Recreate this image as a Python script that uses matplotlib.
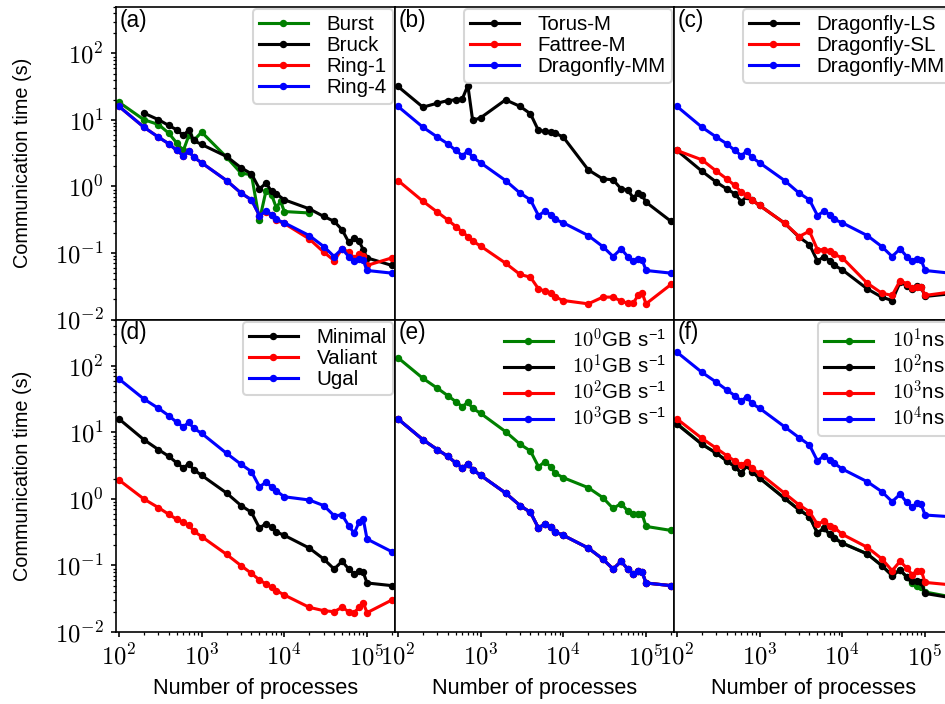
import matplotlib
matplotlib.use("Agg")
import matplotlib.pyplot as plt
from matplotlib.ticker import LogLocator, FuncFormatter, NullFormatter
import numpy as np

plt.rcParams["font.family"] = ["Liberation Sans", "DejaVu Sans"]
plt.rcParams["mathtext.fontset"] = "cm"

# process counts (x axis)
nprocs = [100, 200, 300, 400, 500, 600, 700, 800, 1000, 2000, 3000, 4000, 5000,
          6000, 7000, 8000, 10000, 20000, 30000, 40000, 50000, 60000, 70000,
          80000, 90000, 100000, 200000]
nprocs_bruck = nprocs[1:]
nprocs_burst = [100, 200, 300, 400, 500, 600, 700, 800, 1000, 2000, 3000, 4000,
                5000, 6000, 7000, 8000, 9000, 10000, 20000]

# communication times (s)
dragonfly_mm = [16.0, 7.8, 5.52, 4.39, 3.48, 2.92, 3.40, 2.76, 2.27, 1.23, 0.795,
                0.63, 0.366, 0.425, 0.379, 0.319, 0.284, 0.183, 0.125, 0.0885,
                0.1156, 0.0885, 0.0753, 0.0817, 0.0789, 0.0546, 0.0498]

# (a) algorithms
burst = [18.5, 10.1, 8.55, 6.34, 4.49, 3.48, 5.85, 4.92, 6.56, 2.76, 1.58, 1.51,
         0.31, 0.86, 0.75, 0.48, 0.60, 0.42, 0.40]
bruck = [12.7, 10.1, 8.27, 7.11, 5.85, 7.11, 4.92, 4.28, 2.83, 1.91, 1.55, 0.92,
         1.12, 0.851, 0.776, 0.631, 0.462, 0.354, 0.30, 0.223, 0.146, 0.166,
         0.152, 0.112, 0.0845, 0.065]
ring_1 = [16.0, 7.8, 5.52, 4.39, 3.48, 2.92, 3.40, 2.76, 2.27, 1.23, 0.795, 0.63,
          0.366, 0.42, 0.372, 0.31, 0.278, 0.163, 0.103, 0.077, 0.1156, 0.103,
          0.0845, 0.095, 0.0916, 0.065, 0.0845]
ring_4 = dragonfly_mm

# (b) topologies
torus_m = [31.9, 15.6, 17.9, 19.6, 20.1, 20.8, 33.0, 9.83, 10.8, 20.1, 16.0, 12.4,
           6.95, 6.79, 6.56, 6.34, 5.52, 1.78, 1.30, 1.26, 0.92, 0.89, 0.676,
           0.795, 0.733, 0.581, 0.30]
fattree_m = [1.23, 0.601, 0.411, 0.315, 0.250, 0.206, 0.177, 0.151, 0.127, 0.0703,
             0.0475, 0.0433, 0.0289, 0.0267, 0.0249, 0.0217, 0.0193, 0.0172,
             0.0217, 0.0217, 0.0189, 0.0176, 0.0176, 0.023, 0.0249, 0.0172, 0.0336]

# (c) job placement
dragonfly_ls = [3.48, 1.70, 1.16, 0.92, 0.776, 0.594, 0.708, 0.63, 0.518, 0.281,
                0.173, 0.134, 0.0753, 0.0885, 0.077, 0.0649, 0.0558, 0.0289,
                0.0217, 0.0193, 0.0364, 0.0324, 0.0289, 0.0324, 0.0306, 0.0222,
                0.0243]
dragonfly_sl = [3.48, 2.52, 1.70, 1.30, 1.035, 0.82, 0.733, 0.63, 0.518, 0.281,
                0.177, 0.213, 0.112, 0.112, 0.107, 0.095, 0.0845, 0.0352, 0.0249,
                0.023, 0.0385, 0.0344, 0.0299, 0.0306, 0.0306, 0.023, 0.0258]

# (d) routing
minimal = dragonfly_mm
valiant = [1.93, 1.0, 0.741, 0.589, 0.495, 0.446, 0.406, 0.330, 0.272, 0.147,
           0.0993, 0.0762, 0.0605, 0.0527, 0.047, 0.0419, 0.036, 0.0235, 0.0209,
           0.0202, 0.0235, 0.0202, 0.0195, 0.0235, 0.0276, 0.0195, 0.0303]
ugal = [63.8, 31.9, 23.1, 17.9, 14.2, 12.2, 14.2, 11.6, 9.71, 4.86, 3.32, 2.58,
        1.53, 1.78, 1.53, 1.32, 1.08, 0.966, 0.795, 0.561, 0.574, 0.397, 0.305,
        0.446, 0.50, 0.25, 0.161]

# (e) link bandwidth
bw_1e0 = [133, 65.3, 46.2, 35.8, 29.1, 24.5, 28.5, 23.1, 19.4, 10.3, 6.65, 5.27,
          3.06, 3.64, 3.06, 2.43, 2.09, 1.48, 1.05, 0.72, 0.855, 0.66, 0.60, 0.585,
          0.585, 0.387, 0.337]
bw_1e1 = dragonfly_mm
bw_1e2 = dragonfly_mm
bw_1e3 = dragonfly_mm

# (f) link latency
lat_1e1 = [13.6, 6.7, 4.9, 3.75, 3.08, 2.45, 3.25, 2.6, 2.07, 1.03, 0.69, 0.545,
           0.31, 0.365, 0.297, 0.26, 0.218, 0.15, 0.1, 0.071, 0.086, 0.066, 0.055,
           0.05, 0.048, 0.040, 0.034]
lat_1e2 = [13.3, 6.65, 4.86, 3.73, 3.06, 2.43, 3.25, 2.58, 2.05, 1.02, 0.684, 0.542,
           0.305, 0.362, 0.294, 0.256, 0.216, 0.149, 0.0995, 0.0703, 0.0855, 0.068,
           0.059, 0.059, 0.057, 0.038, 0.033]
lat_1e3 = [16.0, 8.17, 5.78, 4.48, 3.73, 3.25, 3.64, 2.89, 2.43, 1.22, 0.813, 0.644,
           0.416, 0.467, 0.397, 0.371, 0.294, 0.188, 0.126, 0.0836, 0.116, 0.0916,
           0.0728, 0.0836, 0.0836, 0.0557, 0.0513]
lat_1e4 = [161, 80.4, 56.9, 43.6, 35.8, 29.8, 34.6, 27.5, 23.1, 12.2, 8.35, 6.49,
           3.73, 4.48, 3.86, 3.44, 2.82, 1.82, 1.29, 0.912, 1.18, 0.891, 0.767,
           0.861, 0.832, 0.574, 0.542]

gbs = r"GB s$^{\mathregular{-1}}$"
panels = [
    ("(a)", [(nprocs_burst, burst, "g", "Burst"),
             (nprocs_bruck, bruck, "k", "Bruck"),
             (nprocs, ring_1, "r", "Ring-1"),
             (nprocs, ring_4, "b", "Ring-4")], True),
    ("(b)", [(nprocs, torus_m, "k", "Torus-M"),
             (nprocs, fattree_m, "r", "Fattree-M"),
             (nprocs, dragonfly_mm, "b", "Dragonfly-MM")], True),
    ("(c)", [(nprocs, dragonfly_ls, "k", "Dragonfly-LS"),
             (nprocs, dragonfly_sl, "r", "Dragonfly-SL"),
             (nprocs, dragonfly_mm, "b", "Dragonfly-MM")], True),
    ("(d)", [(nprocs, minimal, "k", "Minimal"),
             (nprocs, valiant, "r", "Valiant"),
             (nprocs, ugal, "b", "Ugal")], True),
    ("(e)", [(nprocs, bw_1e0, "g", r"$10^0$" + gbs),
             (nprocs, bw_1e1, "k", r"$10^1$" + gbs),
             (nprocs, bw_1e2, "r", r"$10^2$" + gbs),
             (nprocs, bw_1e3, "b", r"$10^3$" + gbs)], False),
    ("(f)", [(nprocs, lat_1e1, "g", r"$10^1$ns"),
             (nprocs, lat_1e2, "k", r"$10^2$ns"),
             (nprocs, lat_1e3, "r", r"$10^3$ns"),
             (nprocs, lat_1e4, "b", r"$10^4$ns")], True),
]

fig, axes = plt.subplots(2, 3, figsize=(945 / 148, 704 / 148), dpi=148,
                         sharex=True, sharey=True)
fig.subplots_adjust(left=116 / 945, right=953 / 945, top=1 - 7 / 704,
                    bottom=1 - 632 / 704, wspace=0, hspace=0)

pow10 = FuncFormatter(lambda v, pos: r"$10^{%d}$" % int(round(np.log10(v))))

for ax, (tag, series, frame) in zip(axes.flat, panels):
    for x, y, c, lab in series:
        ax.plot(x, y, "-o", color=c, lw=1.5, ms=2.6, label=lab)
    ax.set_xscale("log")
    ax.set_yscale("log")
    ax.text(0.012, 0.995, tag, transform=ax.transAxes, ha="left", va="top",
            fontsize=11)
    leg = ax.legend(loc="upper right", fontsize=10, labelspacing=0.1,
                    handlelength=2.4, handletextpad=0.9, borderaxespad=0.1,
                    borderpad=0.3, frameon=frame, fancybox=True)
    ax.tick_params(which="both", direction="out", labelsize=12)
    ax.tick_params(which="major", length=2.5)
    ax.tick_params(which="minor", length=1.5)

ax0 = axes[0, 0]
for axis in (ax0.xaxis, ax0.yaxis):
    axis.set_major_locator(LogLocator(base=10, numticks=20))
    axis.set_minor_locator(LogLocator(base=10, subs=np.arange(2, 10), numticks=20))
    axis.set_major_formatter(pow10)
    axis.set_minor_formatter(NullFormatter())
ax0.set_xlim(92, 2.18e5)
ax0.set_ylim(1e-2, 5e2)

for ax in axes[0]:
    ax.tick_params(axis="x", which="both", length=0)
for ax in axes[:, 1:].flat:
    ax.tick_params(axis="y", which="both", length=0)
for ax in axes[:, 0]:
    ax.set_ylabel("Communication time (s)", fontsize=9.7)
    ax.yaxis.set_label_coords(-0.30, 0.5)
for ax in axes[1]:
    ax.set_xlabel("Number of processes", fontsize=10.5)

fig.savefig("out.png", dpi=148)
